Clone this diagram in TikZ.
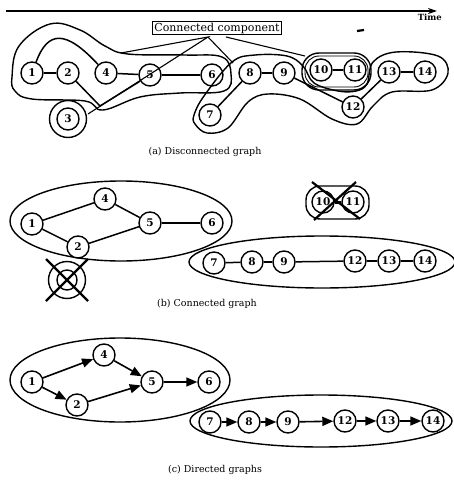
\documentclass[tikz,border=0pt]{standalone}
\usepackage{fontspec}
\setmainfont{DejaVu Serif}
\usetikzlibrary{arrows.meta}
\begin{document}
\begin{tikzpicture}[x=1pt,y=-1pt,
  v/.style={circle,draw,line width=1.4pt,minimum size=22pt,inner sep=0pt,fill=white,
            font=\bfseries\fontsize{10.5}{11}\selectfont},
  e/.style={line width=1.5pt},
  hull/.style={line width=1.4pt},
  ring/.style={circle,draw,line width=1.4pt,minimum size=37pt,inner sep=0pt},
  cross/.style={line width=2.2pt},
  arr/.style={line width=1.6pt,-{Triangle[length=11pt,width=9pt]}},
  captext/.style={font=\fontsize{9.5}{12}\selectfont},
  lbl/.style={font=\bfseries\fontsize{8.5}{10}\selectfont}]
\useasboundingbox (0,0) rectangle (454,487);

% ---------- time axis ----------
\coordinate (t0) at (6,11);
\coordinate (t1) at (437,11);
\draw[line width=1.4pt,-{Stealth[length=9pt,width=6pt]}] (t0) -- (t1);
\node[lbl,anchor=north east,inner sep=0pt] (time) at (442,14) {Time};
\draw[line width=2.2pt] (357,31) -- (364,30);

% ---------- (a) disconnected graph ----------
\node[draw,line width=1.3pt,inner sep=1.5pt,font=\fontsize{11}{13}\selectfont] (cc) at (217,28) {Connected component};

\node[v] (a1) at (32,73) {1};
\node[v] (a2) at (68,73) {2};
\node[v] (a4) at (106,73) {4};
\node[v] (a5) at (150,75) {5};
\node[v] (a6) at (212,75) {6};
\node[v] (a3) at (68,119) {3};
\node[ring] (a3r) at (68,119) {};
\node[v] (a7) at (210,115) {7};
\node[v] (a8) at (250,73) {8};
\node[v] (a9) at (284,73) {9};
\node[v] (a10) at (321,70) {10};
\node[v] (a11) at (355,70) {11};
\node[v] (a12) at (353,107) {12};
\node[v] (a13) at (389,72) {13};
\node[v] (a14) at (425,72) {14};

% component hulls
\draw[hull] plot[smooth cycle,tension=0.65] coordinates {
  (12,77) (19,46) (50,24) (80,30) (105,46) (128,54) (185,55) (222,57)
  (231,74) (224,91) (180,93) (140,97) (103,110) (85,101) (32,99) (15,91)};
\draw[hull] plot[smooth cycle,tension=0.6] coordinates {
  (194,115) (204,96) (232,62) (255,55) (287,56) (303,66) (314,83) (338,91)
  (356,91) (367,84) (373,62) (396,52) (438,56) (448,73) (432,90) (392,92)
  (373,106) (357,124) (332,119) (300,99) (268,94) (248,102) (228,128)
  (207,133) (195,124)};
\draw[hull,rounded corners=17] (302,53) rectangle (371,90);
\draw[line width=0.9pt,rounded corners=14] (305,56) rectangle (368,87);

% edges
\draw[e] (a1) -- (a2);
\draw[e] (a1) .. controls (48,30) and (66,30) .. (a4);
\draw[e] (a4) -- (a5);
\draw[e] (a5) -- (a6);
\draw[e] (a2) -- (100,106) -- (a5);
\draw[e] (a7) -- (a8);
\draw[e] (a8) -- (a9);
\draw[e] (a9) -- (a12);
\draw[e] (a10) -- (a11);
\draw[e] (a12) -- (a13);
\draw[e] (a13) -- (a14);

% pointers from the label
\coordinate (p0) at (208,37);
\coordinate (p1) at (226,37);
\coordinate (q1) at (121,53);
\coordinate (q3) at (88,114);
\coordinate (q8) at (233,63);
\coordinate (q10) at (305,56);
\draw[line width=1.1pt] (q1) -- (p0) -- (q3);
\draw[line width=1.1pt] (p0) -- (q8);
\draw[line width=1.1pt] (p1) -- (q10);

\node[captext] (capa) at (205,152) {(a) Disconnected graph};

% ---------- (b) connected graph ----------
\draw[hull] (121,221) ellipse [x radius=111, y radius=40];
\node[v] (b1) at (32,224) {1};
\node[v] (b4) at (105,199) {4};
\node[v] (b2) at (78,247) {2};
\node[v] (b5) at (150,223) {5};
\node[v] (b6) at (212,223) {6};
\draw[e] (b1) -- (b4);
\draw[e] (b1) -- (b2);
\draw[e] (b4) -- (b5);
\draw[e] (b2) -- (b5);
\draw[e] (b5) -- (b6);

% removed component {3}
\node[v,minimum size=20pt] (b3) at (67,280) {};
\node[ring] (b3r) at (67,280) {};
\coordinate (x3a) at (46,259);
\coordinate (x3b) at (88,301);
\coordinate (x3c) at (88,259);
\coordinate (x3d) at (46,301);
\draw[cross] (x3a) -- (x3b);
\draw[cross] (x3c) -- (x3d);

% removed component {10,11}
\draw[hull,rounded corners=14] (306,186) rectangle (369,219);
\node[v] (b10) at (323,202) {10};
\node[v] (b11) at (353,202) {11};
\draw[line width=3pt] (b10) -- (b11);
\coordinate (x10a) at (312,182);
\coordinate (x10b) at (360,219);
\coordinate (x10c) at (356,182);
\coordinate (x10d) at (314,220);
\draw[cross] (x10a) -- (x10b);
\draw[cross] (x10c) -- (x10d);

\draw[hull] (322,262) ellipse [x radius=133, y radius=26];
\node[v] (b7) at (214,263) {7};
\node[v] (b8) at (252,262) {8};
\node[v] (b9) at (284,262) {9};
\node[v] (b12) at (355,261) {12};
\node[v] (b13) at (389,261) {13};
\node[v] (b14) at (425,261) {14};
\draw[e] (b7) -- (b8);
\draw[e] (b8) -- (b9);
\draw[e] (b9) -- (b12);
\draw[e] (b12) -- (b13);
\draw[e] (b13) -- (b14);

\node[captext] (capb) at (207,304) {(b) Connected graph};

% ---------- (c) directed graphs ----------
\draw[hull] (120,380) ellipse [x radius=110, y radius=42];
\node[v] (c1) at (32,382) {1};
\node[v] (c4) at (104,355) {4};
\node[v] (c2) at (77,405) {2};
\node[v] (c5) at (152,382) {5};
\node[v] (c6) at (209,382) {6};
\draw[arr] (c1) -- (c4);
\draw[arr] (c1) -- (c2);
\draw[arr] (c4) -- (c5);
\draw[arr] (c2) -- (c5);
\draw[arr] (c5) -- (c6);

\draw[hull] (321,421) ellipse [x radius=131, y radius=26];
\node[v] (c7) at (210,422) {7};
\node[v] (c8) at (249,422) {8};
\node[v] (c9) at (288,422) {9};
\node[v] (c12) at (345,421) {12};
\node[v] (c13) at (388,421) {13};
\node[v] (c14) at (433,421) {14};
\draw[arr] (c7) -- (c8);
\draw[arr] (c8) -- (c9);
\draw[arr] (c9) -- (c12);
\draw[arr] (c12) -- (c13);
\draw[arr] (c13) -- (c14);

\node[captext] (capc) at (215,470) {(c) Directed graphs};
\end{tikzpicture}
\end{document}
